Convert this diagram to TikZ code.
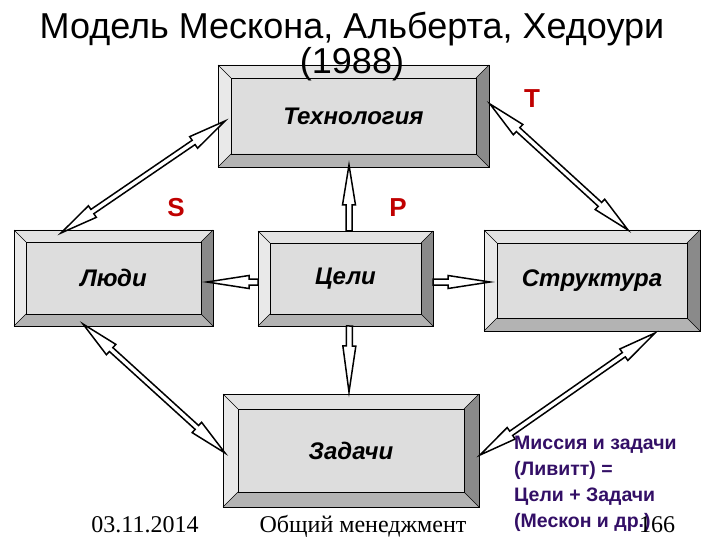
\documentclass[tikz,border=0pt]{standalone}
\usepackage{fontspec}
\setmainfont{Liberation Serif}
\setsansfont{Liberation Sans}
\usepackage{xcolor}
\usetikzlibrary{calc}

\definecolor{faceinner}{HTML}{DDDDDD}
\definecolor{facetop}{HTML}{E3E3E3}
\definecolor{faceleft}{HTML}{E9E9E9}
\definecolor{faceright}{HTML}{8A8A8A}
\definecolor{facebottom}{HTML}{B3B3B3}
\definecolor{letterred}{HTML}{C00000}
\definecolor{missionink}{HTML}{330F66}

\tikzset{
    boxlabel/.style={font=\sffamily\bfseries\itshape\fontsize{24}{28}\selectfont,
        inner sep=0pt, outer sep=0pt},
    boxline/.style={line width=0.9pt},
    arrowbody/.style={fill=white, draw=black, line width=1.5pt, line join=miter},
    letter/.style={font=\sffamily\bfseries\fontsize{26}{30}\selectfont, text=letterred, anchor=base},
    footer/.style={font=\fontsize{24}{28}\selectfont, anchor=base},
}

% bevelled box: name, x1, y1, x2, y2, bevel, text
\newcommand{\bevelbox}[7]{%
    \fill[faceinner] (#2,#3) rectangle (#4,#5);
    \fill[facetop] (#2,#3) -- (#4,#3) -- (#4-#6,#3+#6) -- (#2+#6,#3+#6) -- cycle;
    \fill[faceleft] (#2,#3) -- (#2+#6,#3+#6) -- (#2+#6,#5-#6) -- (#2,#5) -- cycle;
    \fill[faceright] (#4,#3) -- (#4,#5) -- (#4-#6,#5-#6) -- (#4-#6,#3+#6) -- cycle;
    \fill[facebottom] (#2,#5) -- (#4,#5) -- (#4-#6,#5-#6) -- (#2+#6,#5-#6) -- cycle;
    \draw[boxline] (#2,#3) rectangle (#4,#5);
    \draw[boxline] (#2+#6,#3+#6) rectangle (#4-#6,#5-#6);
    \draw[thin] (#2,#3) -- (#2+#6,#3+#6) (#4,#3) -- (#4-#6,#3+#6)
        (#2,#5) -- (#2+#6,#5-#6) (#4,#5) -- (#4-#6,#5-#6);
    \node[boxlabel, minimum width={(#4-#2)*1pt}, minimum height={(#5-#3)*1pt}]
        (#1) at ({(#2+#4)/2},{(#3+#5)/2}) {#7};
}

% hollow arrow with a head at both ends
\newcommand{\twoway}[2]{%
    \coordinate (ha) at ($(#1)!38pt!(#2)$);
    \coordinate (hb) at ($(#2)!38pt!(#1)$);
    \filldraw[arrowbody] (#1) -- ($(ha)!7pt!90:(#2)$) -- ($(ha)!2.6pt!90:(#2)$)
        -- ($(hb)!2.6pt!-90:(#1)$) -- ($(hb)!7pt!-90:(#1)$) -- (#2)
        -- ($(hb)!7pt!90:(#1)$) -- ($(hb)!2.6pt!90:(#1)$)
        -- ($(ha)!2.6pt!-90:(#2)$) -- ($(ha)!7pt!-90:(#2)$) -- cycle;
}

% hollow arrow with one head: base, tip, head length
\newcommand{\oneway}[3]{%
    \coordinate (hh) at ($(#2)!#3!(#1)$);
    \filldraw[arrowbody] (#2) -- ($(hh)!6.5pt!90:(#1)$) -- ($(hh)!3pt!90:(#1)$)
        -- ($(#1)!3pt!-90:(#2)$) -- ($(#1)!3pt!90:(#2)$)
        -- ($(hh)!3pt!-90:(#1)$) -- ($(hh)!6.5pt!-90:(#1)$) -- cycle;
}

\begin{document}
\begin{tikzpicture}[x=1pt, y=-1pt]
    \useasboundingbox[fill=white] (0,0) rectangle (720,540);

    % boxes
    \bevelbox{tech}{218}{65}{489}{167}{13}{Технология}
    \bevelbox{ludi}{14}{230}{213}{326}{12}{Люди}
    \bevelbox{celi}{258}{231}{433}{326}{12}{Цели}
    \bevelbox{strukt}{484}{230}{700}{331}{13}{Структура}
    \bevelbox{zadachi}{223}{394}{479}{507}{15}{Задачи}

    % arrow ends
    \coordinate (s1) at ($(ludi.north west)+(47,3)$);
    \coordinate (s2) at ($(tech.north west)+(7,56)$);
    \coordinate (t1) at ($(tech.north east)+(1,39)$);
    \coordinate (t2) at ($(strukt.north west)+(144,0)$);
    \coordinate (l1) at ($(ludi.south west)+(69,-2)$);
    \coordinate (l2) at ($(zadachi.north west)+(2,59)$);
    \coordinate (r1) at ($(strukt.south west)+(171,2)$);
    \coordinate (r2) at ($(zadachi.north east)+(1,61)$);

    \twoway{s1}{s2}
    \twoway{t1}{t2}
    \twoway{l1}{l2}
    \twoway{r1}{r2}

    % from the goals
    \coordinate (up0) at ($(celi.north)+(3.5,0)$);
    \coordinate (up1) at ($(tech.south)+(-4.5,-2)$);
    \coordinate (dn0) at ($(celi.south)+(4,0)$);
    \coordinate (dn1) at ($(zadachi.north)+(-2,-2)$);
    \coordinate (lf0) at ($(celi.west)+(0,3.5)$);
    \coordinate (lf1) at ($(ludi.east)+(-6,4)$);
    \coordinate (rt0) at ($(celi.east)+(0,3.5)$);
    \coordinate (rt1) at ($(strukt.west)+(6,1.5)$);
    \oneway{up0}{up1}{40pt}
    \oneway{dn0}{dn1}{46pt}
    \oneway{lf0}{lf1}{42pt}
    \oneway{rt0}{rt1}{42pt}

    % letters
    \node[letter] (S) at (176,217) {S};
    \node[letter] (P) at (398,217) {P};
    \node[letter] (T) at (532,108) {T};

    % title, over the top box
    \node[font=\sffamily\fontsize{36}{29}\selectfont, align=center, anchor=north,
        inner sep=0pt] (title) at (352,12)
        {Модель Мескона, Альберта, Хедоури\\(1988)};

    % note
    \node[font=\sffamily\bfseries\fontsize{19.5}{26}\selectfont, text=missionink,
        align=left, anchor=north west, inner sep=0pt] (mission) at (514,436)
        {Миссия и задачи\\(Ливитт) =\\Цели + Задачи\\(Мескон и др.)};

    % footer
    \node[footer] (date) at (145,532) {03.11.2014};
    \node[footer] (course) at (363,532) {Общий менеджмент};
    \node[footer] (page) at (657,532) {166};
\end{tikzpicture}
\end{document}
